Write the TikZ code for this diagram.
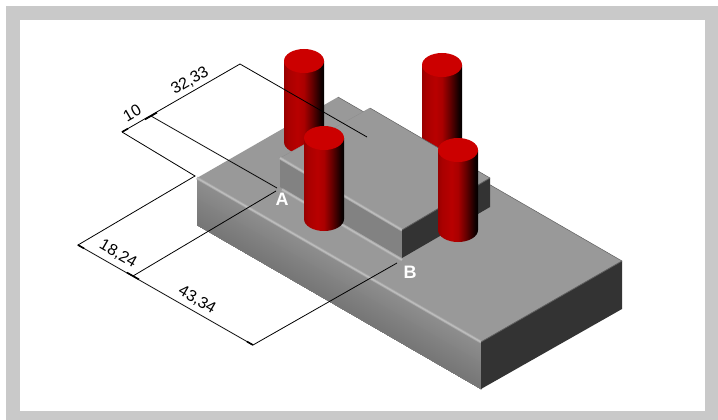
\documentclass[tikz,border=0pt]{standalone}
\usepackage{fontspec}
\usetikzlibrary{calc}
\setmainfont{Liberation Sans}
\definecolor{cylleft}{HTML}{980000}
\definecolor{cylmid}{HTML}{B80000}
\definecolor{cyltop}{HTML}{CC0000}
\definecolor{frame}{HTML}{C9C9C9}
\definecolor{topface}{HTML}{999999}
\definecolor{fronthigh}{HTML}{8E8E8E}
\definecolor{frontface}{HTML}{828282}
\definecolor{frontlow}{HTML}{767676}
\definecolor{sideface}{HTML}{333333}
\definecolor{edgelight}{HTML}{BDBDBD}
\definecolor{edgesoft}{HTML}{A8A8A8}
\pgfdeclarehorizontalshading{cylshade}{100bp}{
  color(0bp)=(cylleft); color(25bp)=(cylleft); color(30bp)=(cylmid!92!black); color(42bp)=(cylmid);
  color(50bp)=(cylmid!92!black); color(60bp)=(cylmid!55!black); color(71bp)=(cylmid!10!black); color(75bp)=(black); color(100bp)=(black)}
\tikzset{
  facetop/.style={fill=topface},
  faceside/.style={fill=sideface},
  hilite/.style={edgelight,line width=1.3pt,preaction={draw=edgesoft,line width=3pt}},
  softedge/.style={gray!75!black,line width=0.8pt},
  dimline/.style={black,line width=0.8pt},
  dimtick/.style={black,line width=1.6pt},
  dimtext/.style={black,font=\fontsize{16}{16}\selectfont,inner sep=0pt},
  pointlabel/.style={white,font=\bfseries\fontsize{18}{18}\selectfont,inner sep=0pt}
}
% one pillar: center of the top ellipse, height
\newcommand{\pillar}[3]{
  \shade[shading=cylshade] ({#1-20},#2) -- ({#1-20},{#2+#3}) arc[start angle=180,end angle=360,x radius=20,y radius=-12] -- ({#1+20},#2) -- cycle;
  \fill[cyltop] (#1,#2) ellipse [x radius=20,y radius=12];
}
\begin{document}
\begin{tikzpicture}[x=1pt,y=-1pt]
  \useasboundingbox (0,0) rectangle (718,420);
  \fill[frame] (6,6) rectangle (718,420);
  \fill[white] (20,20) rectangle (705,411);
  % lower plate
  \coordinate (pl) at (197,178);
  \coordinate (pf) at (481,342);
  \coordinate (pr) at (622,261);
  \coordinate (pb) at (338,97);
  \coordinate (plb) at (197,225);
  \coordinate (pfb) at (481,389);
  \coordinate (prb) at (622,309);
  \fill[facetop] (pl) -- (pb) -- (pr) -- (pf) -- cycle;
  \fill[frontlow] (pl) -- (pf) -- (pfb) -- (plb) -- cycle;
  \foreach \s in {0,2,...,44}{
    \pgfmathsetmacro\mixval{100-2.2*\s}
    \fill[fronthigh!\mixval!frontlow] ($(pl)+(0,\s)$) -- ($(pf)+(0,\s)$) -- (pfb) -- (plb) -- cycle;
  }
  \fill[faceside] (pf) -- (pr) -- (prb) -- (pfb) -- cycle;
  \draw[hilite] (pl) -- (pf);
  \draw[softedge] (pf) -- (pr);
  \draw[softedge,line width=0.5pt] (pb) -- (pr);
  % back pillars
  \pillar{304}{61}{81}
  \pillar{442}{65}{81}
  % upper block
  \coordinate (bl) at (280,158);
  \coordinate (bf) at (402,230);
  \coordinate (br) at (490,178);
  \coordinate (bb) at (370,108);
  \coordinate (blb) at (280,187);
  \coordinate (bfb) at (402,258);
  \coordinate (brb) at (490,207);
  \fill[facetop] (bl) -- (bb) -- (br) -- (bf) -- cycle;
  \fill[frontface] (bl) -- (bf) -- (bfb) -- (blb) -- cycle;
  \fill[faceside] (bf) -- (br) -- (brb) -- (bfb) -- cycle;
  \draw[gray!50!topface,line width=0.3pt] (bl) -- (bb);
  \draw[softedge,line width=0.5pt] (bb) -- (br);
  \draw[hilite] (bl) -- (bf);
  \draw[hilite] ($(blb)+(2,2.5)$) -- ($(bfb)+(0,2)$);
  \draw[softedge] (bf) -- (br);
  % front pillars
  \pillar{324}{138}{81}
  \pillar{458}{150}{80}
  % dimensions
  \coordinate (d1) at (122,132);
  \coordinate (d2) at (151,116);
  \coordinate (d3) at (240,64);
  \coordinate (d4) at (367,137);
  \coordinate (d5) at (277,188);
  \coordinate (d6) at (195,176);
  \coordinate (d7) at (78,245);
  \coordinate (d8) at (133,276);
  \coordinate (d9) at (253,345);
  \coordinate (d10) at (276,191);
  \coordinate (d11) at (397,263);
  \draw[dimline] (d1) -- (d3) -- (d4);
  \draw[dimline] (d2) -- (d5);
  \draw[dimline] (d1) -- (d6) -- (d7) -- (d9) -- (d11);
  \draw[dimline] (d8) -- (d10);
  \draw[dimtick] (d1) -- ++(6,-3.4);
  \draw[dimtick] (d2) -- ++(-6,3.4);
  \draw[dimtick] (d2) -- ++(6,-3.4);
  \draw[dimtick] (d7) -- ++(6,3.4);
  \draw[dimtick] (d8) -- ++(-6,-3.4);
  \draw[dimtick] (d8) -- ++(6,3.4);
  \draw[dimtick] (d9) -- ++(-6,-3.4);
  \node[dimtext,rotate=30] (dimA) at (132,113) {10};
  \node[dimtext,rotate=30] (dimB) at (190,81) {32,33};
  \node[dimtext,rotate=-30] (dimC) at (118,254) {18,24};
  \node[dimtext,rotate=-30] (dimD) at (197,300) {43,34};
  \node[pointlabel] (ptA) at (282,199) {A};
  \node[pointlabel] (ptB) at (410,272) {B};
\end{tikzpicture}
\end{document}
